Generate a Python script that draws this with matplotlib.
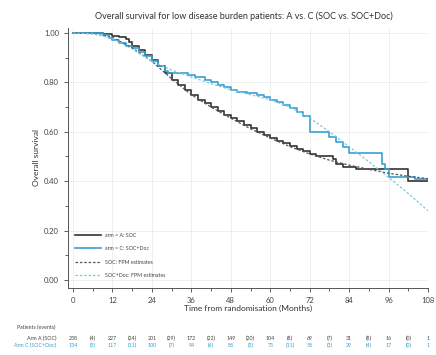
import matplotlib
matplotlib.use("Agg")
import matplotlib.pyplot as plt
from matplotlib.ticker import MultipleLocator

plt.rcParams['font.family'] = ['Lato', 'DejaVu Sans']

# Kaplan-Meier steps (months, survival)
soc_t = [0, 6, 9, 12, 14, 16, 17, 18, 20, 22, 24, 26, 28, 30, 32, 34, 36, 38, 40,
         42, 44, 46, 48, 50, 52, 54, 56, 58, 60, 62, 64, 66, 68, 70, 72, 74,
         76, 79, 80, 82, 86, 102, 108]
soc_s = [1.0, 0.998, 0.994, 0.988, 0.984, 0.975, 0.962, 0.948, 0.93, 0.91,
         0.89, 0.865, 0.84, 0.81, 0.788, 0.768, 0.748, 0.73, 0.715, 0.70,
         0.686, 0.668, 0.655, 0.642, 0.628, 0.614, 0.60, 0.585, 0.575, 0.563,
         0.553, 0.543, 0.532, 0.522, 0.512, 0.502, 0.50, 0.49, 0.47, 0.458,
         0.448, 0.40, 0.40]

doc_t = [0, 6, 9, 11, 12, 14, 16, 18, 20, 22, 24, 26, 28, 29, 35, 37, 40, 42,
         44, 46, 48, 50, 53, 56, 58, 60, 62, 64, 66, 68, 70, 72, 78, 80, 82,
         84, 94, 95, 96, 104, 108]
doc_s = [1.0, 0.998, 0.99, 0.98, 0.97, 0.96, 0.948, 0.94, 0.925, 0.905, 0.885,
         0.865, 0.845, 0.84, 0.83, 0.82, 0.81, 0.80, 0.79, 0.78, 0.768, 0.762,
         0.757, 0.75, 0.74, 0.73, 0.72, 0.708, 0.695, 0.68, 0.662, 0.598,
         0.58, 0.56, 0.54, 0.515, 0.47, 0.45, 0.418, 0.41, 0.41]

# Flexible parametric model estimates
fpm_t = [0, 6, 12, 18, 24, 30, 36, 42, 48, 54, 60, 66, 72, 78, 84, 90, 96, 102, 108]
fpm_soc = [1.0, 0.997, 0.982, 0.94, 0.885, 0.815, 0.75, 0.70, 0.655, 0.612,
           0.575, 0.54, 0.51, 0.485, 0.465, 0.448, 0.432, 0.42, 0.41]
fpm_doc = [1.0, 0.997, 0.978, 0.935, 0.885, 0.85, 0.822, 0.795, 0.77, 0.75,
           0.73, 0.70, 0.656, 0.60, 0.54, 0.478, 0.415, 0.35, 0.28]

risk_times = [0, 12, 24, 36, 48, 60, 72, 84, 96, 108]
risk_a = ["238", "227", "201", "172", "149", "104", "69", "31", "16", "1"]
events_a = ["(4)", "(24)", "(29)", "(22)", "(20)", "(8)", "(7)", "(8)", "(0)"]
risk_c = ["134", "117", "100", "94", "86", "75", "58", "29", "17", "1"]
events_c = ["(5)", "(11)", "(7)", "(6)", "(3)", "(11)", "(3)", "(4)", "(0)"]

dark = "#333333"
blue = "#3aa0cf"
light_blue = "#7cc8e8"

fig = plt.figure(figsize=(4.36, 3.55), dpi=100)
ax = fig.add_axes([0.156, 0.189, 0.826, 0.732])

ax.plot(soc_t, soc_s, drawstyle="steps-post", color=dark, lw=1.2, label="arm = A: SOC")
ax.plot(doc_t, doc_s, drawstyle="steps-post", color=blue, lw=1.2, label="arm = C: SOC+Doc")
ax.plot(fpm_t, fpm_soc, color="#555555", lw=0.9, ls=(0, (2, 1.5)), label="SOC: FPM estimates")
ax.plot(fpm_t, fpm_doc, color=light_blue, lw=0.9, ls=(0, (2, 1.5)), label="SOC+Doc: FPM estimates")

ax.set_xlim(-1.5, 108)
ax.set_ylim(-0.032, 1.02)
ax.xaxis.set_major_locator(MultipleLocator(12))
ax.xaxis.set_minor_locator(MultipleLocator(6))
ax.yaxis.set_major_locator(MultipleLocator(0.2))
ax.yaxis.set_minor_locator(MultipleLocator(0.1))
ax.set_yticklabels([f"{v:.2f}" for v in ax.get_yticks()])
ax.tick_params(which="both", labelsize=5.5, colors="#444444", length=3, width=0.6)
ax.tick_params(which="minor", length=2)
ax.grid(True, which="major", color="#ececec", lw=0.6)
ax.set_axisbelow(True)
for side in ("top", "right"):
    ax.spines[side].set_visible(False)
for side in ("left", "bottom"):
    ax.spines[side].set_color("#555555")
    ax.spines[side].set_linewidth(0.7)

ax.set_xlabel("Time from randomisation (Months)", fontsize=6, color="#333333", labelpad=1)
ax.set_ylabel("Overall survival", fontsize=6, color="#333333", labelpad=3)
fig.text(0.56, 0.955, "Overall survival for low disease burden patients: A vs. C (SOC vs. SOC+Doc)",
         ha="center", va="center", fontsize=6.5, color="#333333")

ax.legend(loc="lower left", bbox_to_anchor=(0.005, 0.02), frameon=False, fontsize=3.8,
          handlelength=5, labelspacing=1.6, labelcolor="#444444")

# numbers at risk table
fig.text(0.127, 0.078, "Patients (events)", fontsize=3.8, color="#444444", ha="right", va="center")
row_a_y, row_c_y = -0.196, -0.223
tr = ax.get_xaxis_transform()
ax.text(-5, row_a_y, "Arm A (SOC)", transform=tr, fontsize=3.8, color="#444444", ha="right", va="center")
ax.text(-5, row_c_y, "Arm C (SOC+Doc)", transform=tr, fontsize=3.8, color=blue, ha="right", va="center")
for i, t in enumerate(risk_times):
    ax.text(t, row_a_y, risk_a[i], transform=tr, fontsize=3.8, color="#444444", ha="center", va="center")
    ax.text(t, row_c_y, risk_c[i], transform=tr, fontsize=3.8, color=blue, ha="center", va="center")
    if i < len(events_a):
        ax.text(t + 6, row_a_y, events_a[i], transform=tr, fontsize=3.8, color="#444444", ha="center", va="center")
        ax.text(t + 6, row_c_y, events_c[i], transform=tr, fontsize=3.8, color=blue, ha="center", va="center")

fig.savefig("out.png", dpi=100)
